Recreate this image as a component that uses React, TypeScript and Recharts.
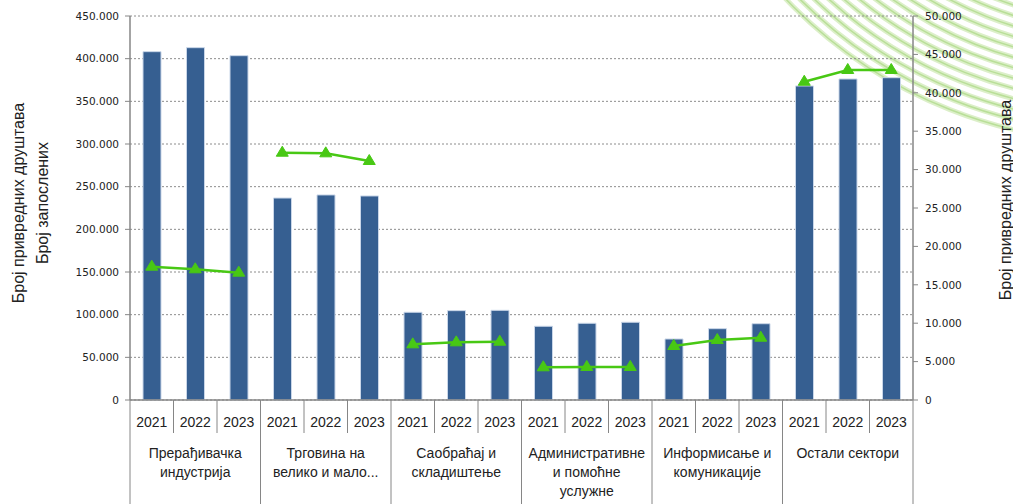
import React from 'react';
import { ComposedChart, Bar, Line, XAxis, YAxis, CartesianGrid } from 'recharts';

const years = ['2021', '2022', '2023'];
const sectors: string[][] = [
  ['Прерађивачка', 'индустрија'],
  ['Трговина на', 'велико и мало...'],
  ['Саобраћај и', 'складиштење'],
  ['Административне', 'и помоћне', 'услужне'],
  ['Информисање и', 'комуникације'],
  ['Остали сектори'],
];
// Број запослених (left axis)
const employees = [
  408200, 412900, 403500,
  236700, 240300, 239100,
  102800, 104700, 105100,
  86400, 89900, 91100,
  71500, 83600, 89400,
  368000, 376200, 377700,
];
// Број привредних друштава (right axis)
const companies = [
  17360, 17020, 16580,
  32200, 32120, 31120,
  7250, 7510, 7590,
  4260, 4300, 4300,
  7030, 7810, 8110,
  41440, 42970, 42970,
];
const leftTicks = [0, 50000, 100000, 150000, 200000, 250000, 300000, 350000, 400000, 450000];
const rightTicks = [0, 5000, 10000, 15000, 20000, 25000, 30000, 35000, 40000, 45000, 50000];

const W = 1013;
const H = 504;
const PLOT_LEFT = 130;
const PLOT_RIGHT = 913;
const HALF = (PLOT_RIGHT - PLOT_LEFT) / employees.length / 2;

const BAR = '#365f91';
const GREEN = '#48c814';
const GRID = '#8c8c8c';
const AXIS = '#868686';
const TEXT = '#222';
const CAT_FONT = '"Liberation Sans", Arial, sans-serif';
const NUM_FONT = '"DejaVu Sans", Verdana, sans-serif';

const data = employees.map((e, i) => {
  const g = Math.floor(i / years.length);
  const row: Record<string, any> = { key: i, year: years[i % years.length], employees: e };
  row['c' + g] = companies[i];
  return row;
});

const fmt = (v: number) => String(v).replace(/\B(?=(\d{3})+(?!\d))/g, '.');

const CategoryTick = (props: any) => {
  const { x, y, index } = props;
  const row = data[index];
  const pos = index % years.length;
  const g = Math.floor(index / years.length);
  return (
    <g>
      <text x={x} y={y + 27} textAnchor="middle" fontSize={14} fontFamily={CAT_FONT} fill={TEXT}>
        {row.year}
      </text>
      <line x1={x - HALF} x2={x - HALF} y1={y} y2={pos === 0 ? H : y + 33} stroke={AXIS} strokeWidth={1} />
      {index === data.length - 1 && (
        <line x1={x + HALF} x2={x + HALF} y1={y} y2={H} stroke={AXIS} strokeWidth={1} />
      )}
      {pos === 1 &&
        sectors[g].map((s, k) => (
          <text key={k} x={x} y={y + 58 + k * 19} textAnchor="middle" fontSize={14} fontFamily={CAT_FONT} fill={TEXT}>
            {s}
          </text>
        ))}
    </g>
  );
};

const Triangle = (props: any) => {
  const { cx, cy, index } = props;
  if (cx == null || cy == null || Number.isNaN(cy)) return <g key={'t' + index} />;
  return (
    <polygon
      key={'t' + index}
      points={`${cx},${cy - 6.5} ${cx + 6},${cy + 3.5} ${cx - 6},${cy + 3.5}`}
      fill={GREEN}
      stroke={GREEN}
      strokeWidth={1}
    />
  );
};

// decorative rings in the top-right corner
const Arcs = () => {
  const radii: number[] = [];
  for (let r = 462; r >= 330; r -= 10) radii.push(r);
  return (
    <svg width={W} height={H} style={{ position: 'absolute', left: 0, top: 0 }}>
      {radii.map((r) => (
        <g key={r}>
          <circle cx={1120} cy={-320} r={r} fill="none" stroke="#dcefc9" strokeWidth={5} />
          <circle cx={1120} cy={-320} r={r} fill="none" stroke="#b9df98" strokeWidth={1.5} />
        </g>
      ))}
    </svg>
  );
};

export default function App() {
  return (
    <div style={{ position: 'absolute', left: 0, top: 0, width: W, height: H, background: '#fff' }}>
      <Arcs />
      <div style={{ position: 'absolute', left: 0, top: 0 }}>
        <ComposedChart width={W} height={H} data={data} margin={{ top: 16, right: 0, bottom: 0, left: 0 }}>
          <CartesianGrid yAxisId="left" vertical={false} stroke={GRID} strokeDasharray="2 2" />
          <XAxis
            dataKey="key"
            interval={0}
            height={104}
            tickSize={0}
            tickMargin={0}
            tickLine={false}
            axisLine={{ stroke: AXIS, strokeWidth: 1.5 }}
            tick={CategoryTick}
          />
          <YAxis
            yAxisId="left"
            width={130}
            domain={[0, 450000]}
            ticks={leftTicks}
            tickFormatter={fmt}
            tickSize={5}
            tickMargin={6}
            axisLine={{ stroke: AXIS, strokeWidth: 1.5 }}
            tickLine={{ stroke: AXIS }}
            tick={{ fill: TEXT, fontSize: 10.5, fontFamily: NUM_FONT }}
            label={{
              content: () => (
                <g fontFamily={CAT_FONT} fontSize={16} fill={TEXT} textAnchor="middle">
                  <text transform="translate(24,203) rotate(-90)">Број привредних друштава</text>
                  <text transform="translate(48,203) rotate(-90)">Број  запослених</text>
                </g>
              ),
            }}
          />
          <YAxis
            yAxisId="right"
            orientation="right"
            width={100}
            domain={[0, 50000]}
            ticks={rightTicks}
            tickFormatter={fmt}
            tickSize={5}
            tickMargin={7}
            axisLine={{ stroke: AXIS, strokeWidth: 1.5 }}
            tickLine={{ stroke: AXIS }}
            tick={{ fill: TEXT, fontSize: 10.5, fontFamily: NUM_FONT }}
            label={{
              content: () => (
                <text
                  transform="translate(1011,200) rotate(-90)"
                  fontFamily={CAT_FONT}
                  fontSize={16}
                  fill={TEXT}
                  textAnchor="middle"
                >
                  Број привредних друштава
                </text>
              ),
            }}
          />
          <Bar
            yAxisId="left"
            dataKey="employees"
            fill={BAR}
            stroke="#c9d6e8"
            strokeWidth={1}
            barSize={18}
            isAnimationActive={false}
          />
          {sectors.map((_, g) => (
            <Line
              key={g}
              yAxisId="right"
              dataKey={'c' + g}
              stroke={GREEN}
              strokeWidth={2.5}
              dot={Triangle}
              activeDot={false}
              isAnimationActive={false}
            />
          ))}
        </ComposedChart>
      </div>
    </div>
  );
}
